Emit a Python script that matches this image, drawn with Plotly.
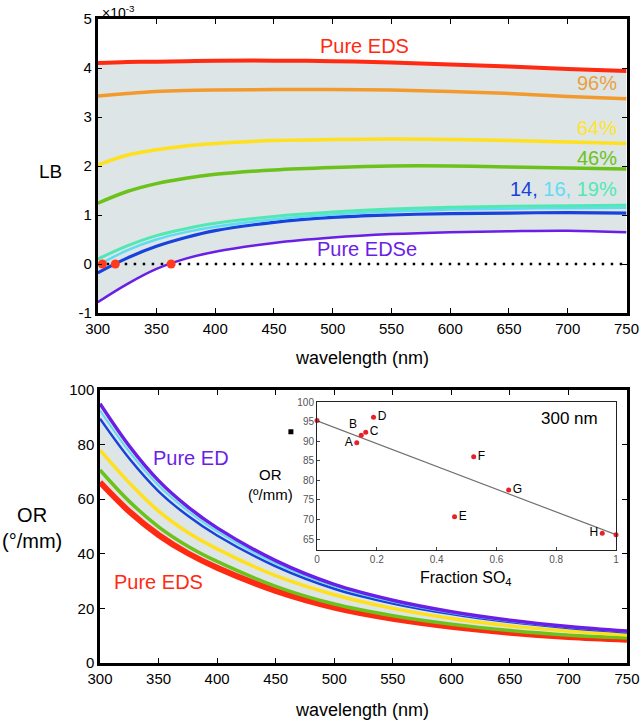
import plotly.graph_objects as go

W, H = 640, 721
FONT = "Liberation Sans, Arial, Helvetica, sans-serif"

# ---------------- data ----------------
wl = [300, 325, 350, 375, 400, 450, 500, 550, 600, 650, 700, 750]

# Linear birefringence (x 1e-3)
lb_eds = [4.10, 4.12, 4.13, 4.14, 4.15, 4.15, 4.14, 4.11, 4.07, 4.03, 3.98, 3.94]
lb_96 = [3.43, 3.48, 3.52, 3.54, 3.55, 3.56, 3.56, 3.55, 3.52, 3.48, 3.42, 3.37]
lb_64 = [2.02, 2.22, 2.33, 2.41, 2.46, 2.52, 2.54, 2.55, 2.54, 2.52, 2.49, 2.46]
lb_46 = [1.24, 1.48, 1.64, 1.75, 1.83, 1.92, 1.97, 2.00, 2.00, 1.98, 1.96, 1.94]
lb_19 = [0.10, 0.37, 0.58, 0.72, 0.83, 0.97, 1.06, 1.12, 1.16, 1.18, 1.19, 1.20]
lb_16 = [-0.03, 0.28, 0.50, 0.65, 0.76, 0.91, 1.01, 1.07, 1.11, 1.13, 1.14, 1.15]
lb_14 = [-0.18, 0.12, 0.36, 0.54, 0.68, 0.85, 0.95, 1.00, 1.03, 1.04, 1.05, 1.04]
lb_edse = [-0.78, -0.41, -0.10, 0.11, 0.25, 0.43, 0.54, 0.61, 0.65, 0.67, 0.68, 0.65]
zero_cross_wl = [304, 315, 362.5]
zero_cross_lb = [0, 0, 0]

# Optical rotation (deg/mm)
or_ed = [95.0, 79.5, 66.8, 57.2, 49.5, 37.5, 28.8, 23.0, 18.8, 15.7, 13.4, 11.7]
or_cyan = [92.5, 77.4, 65.0, 55.7, 48.2, 36.5, 28.1, 22.4, 18.3, 15.3, 13.1, 11.45]
or_blue = [89.5, 74.9, 62.9, 53.9, 46.7, 35.4, 27.2, 21.8, 17.9, 15.0, 12.8, 11.2]
or_yellow = [78.0, 66.0, 55.6, 47.8, 41.8, 32.0, 25.0, 20.0, 16.3, 13.6, 11.7, 10.3]
or_green = [70.7, 59.2, 49.9, 42.8, 37.2, 28.1, 21.6, 17.3, 14.2, 11.9, 10.2, 9.2]
or_eds = [66.2, 55.5, 46.9, 40.2, 34.9, 26.4, 20.3, 16.2, 13.3, 11.1, 9.5, 8.5]
stray_marker = ([463], [84.7])

# Inset: OR at 300 nm vs fraction SO4
sample_frac = [0.133, 0.148, 0.163, 0.189, 0.46, 0.524, 0.641, 0.954]
sample_or300 = [89.6, 91.5, 92.3, 96.1, 70.7, 86.0, 77.5, 66.5]
sample_labels = ["A", "B", "C", "D", "E", "F", "G", "H"]
pure_frac = [0.0, 1.0]
pure_or300 = [95.3, 66.1]
fit_x = [0.0, 1.0]
fit_y = [95.2, 66.1]

# colours
C_RED = "#ff2a12"
C_ORANGE = "#f29a2e"
C_YELLOW = "#ffe01e"
C_GREEN = "#6cc21a"
C_AQUA = "#52e8b4"
C_CYAN = "#60dcf2"
C_BLUE = "#1742dc"
C_PURPLE = "#6a1ee6"
C_FILL = "#dde5e6"


def px(x):
    return x / W


def py(y):
    return 1 - y / H


fig = go.Figure()

# ---------- top panel ----------
fig.add_trace(go.Scatter(x=wl, y=lb_edse, mode="lines", line=dict(width=0, shape="spline"),
                         xaxis="x", yaxis="y", hoverinfo="skip"))
fig.add_trace(go.Scatter(x=wl, y=lb_eds, mode="lines", line=dict(width=0, shape="spline"),
                         fill="tonexty", fillcolor=C_FILL, xaxis="x", yaxis="y", hoverinfo="skip"))
fig.add_trace(go.Scatter(x=[300, 750], y=[0, 0], mode="lines",
                         line=dict(color="black", width=2.5, dash="2.5px,6.5px"),
                         xaxis="x", yaxis="y"))
for ys, col, w in [(lb_edse, C_PURPLE, 2.5), (lb_14, C_BLUE, 3.2), (lb_16, C_CYAN, 2.5),
                   (lb_19, C_AQUA, 3), (lb_46, C_GREEN, 3.5), (lb_64, C_YELLOW, 3.5),
                   (lb_96, C_ORANGE, 3.5), (lb_eds, C_RED, 4)]:
    fig.add_trace(go.Scatter(x=wl, y=ys, mode="lines", line=dict(color=col, width=w, shape="spline"),
                             xaxis="x", yaxis="y"))
fig.add_trace(go.Scatter(x=zero_cross_wl, y=zero_cross_lb, mode="markers",
                         marker=dict(color="#ff3a1e", size=9), xaxis="x", yaxis="y"))

# ---------- bottom panel ----------
fig.add_trace(go.Scatter(x=wl, y=or_eds, mode="lines", line=dict(width=0, shape="spline"),
                         xaxis="x2", yaxis="y2", hoverinfo="skip"))
fig.add_trace(go.Scatter(x=wl, y=or_ed, mode="lines", line=dict(width=0, shape="spline"),
                         fill="tonexty", fillcolor=C_FILL, xaxis="x2", yaxis="y2", hoverinfo="skip"))
for ys, col, w in [(or_eds, C_RED, 6), (or_green, C_GREEN, 3.5), (or_yellow, C_YELLOW, 3.5),
                   (or_blue, C_BLUE, 2.5), (or_cyan, C_CYAN, 2), (or_ed, C_PURPLE, 3.5)]:
    fig.add_trace(go.Scatter(x=wl, y=ys, mode="lines", line=dict(color=col, width=w, shape="spline"),
                             xaxis="x2", yaxis="y2"))
fig.add_trace(go.Scatter(x=stray_marker[0], y=stray_marker[1], mode="markers",
                         marker=dict(color="black", size=5, symbol="square"), xaxis="x2", yaxis="y2"))

# ---------- inset ----------
fig.add_trace(go.Scatter(x=fit_x, y=fit_y, mode="lines", line=dict(color="#707070", width=1.2),
                         xaxis="x3", yaxis="y3"))
positions = ["middle left", "top left", "middle right", "middle right",
             "middle right", "middle right", "middle right", "middle left"]
fig.add_trace(go.Scatter(x=sample_frac, y=sample_or300, mode="markers+text", text=sample_labels,
                         textposition=positions, textfont=dict(size=12, color="black", family=FONT),
                         marker=dict(color="#e8202a", size=5), xaxis="x3", yaxis="y3",
                         cliponaxis=False))
fig.add_trace(go.Scatter(x=pure_frac, y=pure_or300, mode="markers",
                         marker=dict(color="#e8202a", size=5), xaxis="x3", yaxis="y3",
                         cliponaxis=False))

axis_common = dict(showline=True, linewidth=2.5, linecolor="black", mirror="ticks",
                   ticks="inside", ticklen=5, tickwidth=1.2, tickcolor="black",
                   showgrid=False, zeroline=False, automargin=False,
                   tickfont=dict(size=15, color="black", family=FONT))

fig.update_layout(
    width=W, height=H, autosize=False,
    margin=dict(l=0, r=0, t=0, b=0, pad=0, autoexpand=False),
    paper_bgcolor="white", plot_bgcolor="rgba(0,0,0,0)",
    showlegend=False,
    font=dict(family=FONT, color="black"),
    xaxis=dict(domain=[px(97.7), px(626.5)], range=[300, 750], anchor="y",
               tickvals=[300, 350, 400, 450, 500, 550, 600, 650, 700, 750], **axis_common),
    yaxis=dict(domain=[py(313), py(19)], range=[-1, 5], anchor="x",
               tickvals=[-1, 0, 1, 2, 3, 4, 5], ticktext=["-1", "0", "1", "2", "3", "4", "5"],
               **axis_common),
    xaxis2=dict(domain=[px(100), px(627)], range=[300, 750], anchor="y2",
                tickvals=[300, 350, 400, 450, 500, 550, 600, 650, 700, 750], **axis_common),
    yaxis2=dict(domain=[py(663), py(390)], range=[0, 100], anchor="x2",
                tickvals=[0, 20, 40, 60, 80, 100], **axis_common),
    xaxis3=dict(domain=[px(317), px(616)], range=[0, 1], anchor="y3", automargin=False,
                showline=True, linewidth=1, linecolor="#222", mirror=True,
                ticks="inside", ticklen=3, tickcolor="#444", showgrid=False, zeroline=False,
                tickvals=[0, 0.2, 0.4, 0.6, 0.8, 1], ticktext=["0", "0.2", "0.4", "0.6", "0.8", "1"],
                tickfont=dict(size=10, color="#555", family=FONT)),
    yaxis3=dict(domain=[py(550), py(402)], range=[62.2, 100], anchor="x3", automargin=False,
                showline=True, linewidth=1, linecolor="#222", mirror=True,
                ticks="inside", ticklen=3, tickcolor="#444", showgrid=False, zeroline=False,
                tickvals=[65, 70, 75, 80, 85, 90, 95, 100],
                tickfont=dict(size=10, color="#555", family=FONT)),
)

ann = []


def add_text(x, y, text, size, color="black", xanchor="center", yanchor="middle"):
    ann.append(dict(x=px(x), y=py(y), xref="paper", yref="paper", text=text, showarrow=False,
                    font=dict(size=size, color=color, family=FONT), xanchor=xanchor, yanchor=yanchor))


# top panel texts
add_text(100, 1, "×10<sup>-3</sup>", 14, xanchor="left", yanchor="top")
add_text(50, 171, "LB", 19)
add_text(362, 358, "wavelength (nm)", 18)
add_text(364, 46, "Pure EDS", 20, C_RED)
add_text(619, 83, "96%", 20, "#eaa040", xanchor="right")
add_text(619, 128, "64%", 20, "#ffe42c", xanchor="right")
add_text(619, 158, "46%", 20, C_GREEN, xanchor="right")
add_text(619, 189,
         f"<span style='color:{C_BLUE}'>14, </span><span style='color:{C_CYAN}'>16, </span>"
         f"<span style='color:{C_AQUA}'>19%</span>", 20, C_AQUA, xanchor="right")
add_text(367, 249, "Pure EDSe", 20, C_PURPLE)

# bottom panel texts
add_text(32, 528, "OR<br>(°/mm)", 20)
add_text(362, 710, "wavelength (nm)", 18)
add_text(191, 458, "Pure ED", 20, C_PURPLE)
add_text(158, 582, "Pure EDS", 20, C_RED)

# inset texts
add_text(270, 484, "OR<br>(º/mm)", 15)
add_text(569, 418, "300 nm", 17)
add_text(466, 578, "Fraction SO<sub>4</sub>", 16)

fig.update_layout(annotations=ann)

fig.write_html("out.html", config={"displayModeBar": False},
               post_script="document.body.style.margin='0';document.body.style.overflow='hidden';")
